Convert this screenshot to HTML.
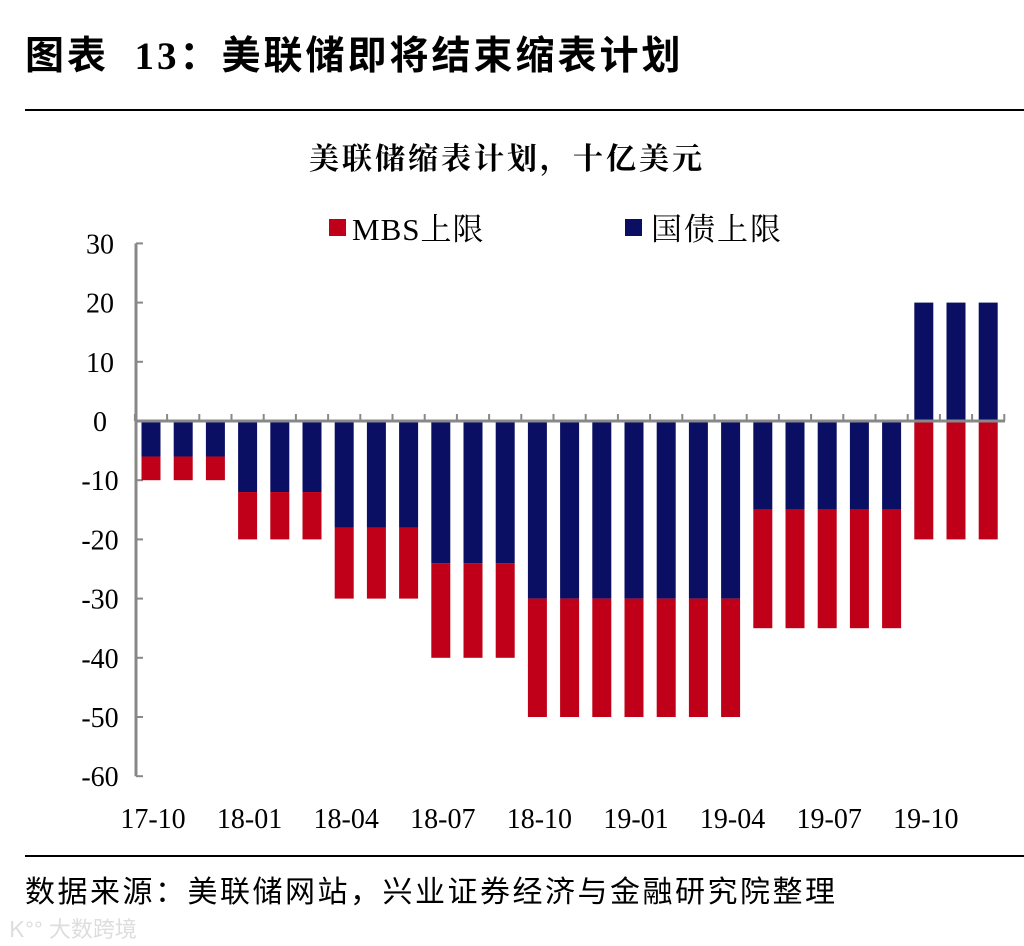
<!DOCTYPE html>
<html><head><meta charset="utf-8">
<style>
body{margin:0;background:#fff;width:1024px;height:946px;overflow:hidden;position:relative;font-family:"Liberation Serif","Noto Serif CJK SC",serif}
.t{position:absolute;white-space:nowrap}
</style></head><body>
<div class="t" style="left:25px;top:25px;font-size:39px;font-weight:bold;font-family:'Liberation Serif','Noto Sans CJK SC',sans-serif;letter-spacing:3px">图表&nbsp; 13：美联储即将结束缩表计划</div>
<div style="position:absolute;left:25px;top:109px;width:999px;height:2px;background:#000"></div>
<svg id="c" width="1024" height="946" style="position:absolute;left:0;top:0"></svg>
<div style="position:absolute;left:25px;top:855px;width:999px;height:2px;background:#000"></div>
<div class="t" style="left:25px;top:867px;font-size:30px;letter-spacing:2.5px;font-family:'Liberation Sans','Noto Sans CJK SC',sans-serif">数据来源：美联储网站，兴业证券经济与金融研究院整理</div>
<div class="t" style="left:10px;top:912px;font-size:22px;color:#ddd;font-family:'Liberation Sans','Noto Sans CJK SC',sans-serif">Ꮶ°° 大数跨境</div>
<script>
const categories=["17-10","17-11","17-12","18-01","18-02","18-03","18-04","18-05","18-06","18-07","18-08","18-09","18-10","18-11","18-12","19-01","19-02","19-03","19-04","19-05","19-06","19-07","19-08","19-09","19-10","19-11","19-12"];
const treasury=[-6,-6,-6,-12,-12,-12,-18,-18,-18,-24,-24,-24,-30,-30,-30,-30,-30,-30,-30,-15,-15,-15,-15,-15,20,20,20];
const mbs=[-4,-4,-4,-8,-8,-8,-12,-12,-12,-16,-16,-16,-20,-20,-20,-20,-20,-20,-20,-20,-20,-20,-20,-20,-20,-20,-20];
const yTicks=[30,20,10,0,-10,-20,-30,-40,-50,-60];
const xLabels=["17-10","18-01","18-04","18-07","18-10","19-01","19-04","19-07","19-10"];
const svg=document.getElementById('c');
const NS='http://www.w3.org/2000/svg';
const y=v=>421-(v*5.92);
const x0=151,step=32.2;
const x=i=>x0+i*step;
const bw=19;
const SER='"Liberation Serif","Noto Serif CJK SC",serif';
function mk(tag,attrs){const e=document.createElementNS(NS,tag);for(const k in attrs)e.setAttribute(k,attrs[k]);svg.appendChild(e);return e;}
let t=mk('text',{x:507,y:169,'font-size':30,'font-weight':'bold','letter-spacing':3,'text-anchor':'middle','font-family':SER});t.textContent='美联储缩表计划，十亿美元';


let r=mk('rect',{x:329,y:219,width:17,height:17,fill:'#C00018'});


t=mk('text',{x:352,y:240,'font-size':31,'letter-spacing':1,'font-family':SER});t.textContent='MBS上限';


r=mk('rect',{x:625,y:219,width:17,height:17,fill:'#0A0F64'});


t=mk('text',{x:651,y:240,'font-size':31,'letter-spacing':2,'font-family':SER});t.textContent='国债上限';


let l=mk('line',{x1:136,y1:y(30),x2:136,y2:y(-60),stroke:'#888','stroke-width':3});


yTicks.forEach(v=>{
 let tk=mk('line',{x1:136,y1:y(v),x2:143,y2:y(v),stroke:'#888','stroke-width':2});
 
 
 let tx=mk('text',{x:100,y:y(v)+10,'font-size':28,'text-anchor':'middle'});tx.textContent=v;
 
 
});
categories.forEach((c,i)=>{
 let b1=mk('rect',{x:x(i)-bw/2,y:Math.min(y(0),y(treasury[i])),width:bw,height:Math.abs(y(treasury[i])-y(0)),fill:'#0A0F64'});
 
 
 const base=treasury[i]<0?treasury[i]:0;
 let b2=mk('rect',{x:x(i)-bw/2,y:y(base),width:bw,height:y(base+mbs[i])-y(base),fill:'#C00018'});
 
 
});
l=mk('line',{x1:136,y1:y(0),x2:1005,y2:y(0),stroke:'#888','stroke-width':3});


for(let i=0;i<=categories.length;i++){
 let tk=mk('line',{x1:x(i)-step/2,y1:y(0),x2:x(i)-step/2,y2:y(0)-7,stroke:'#888','stroke-width':2});
 
 
}
xLabels.forEach(lb=>{
 const i=categories.indexOf(lb);
 let tx=mk('text',{x:x(i)+2,y:828,'font-size':28,'text-anchor':'middle'});tx.textContent=lb;
 
 
});
</script>
</body></html>
